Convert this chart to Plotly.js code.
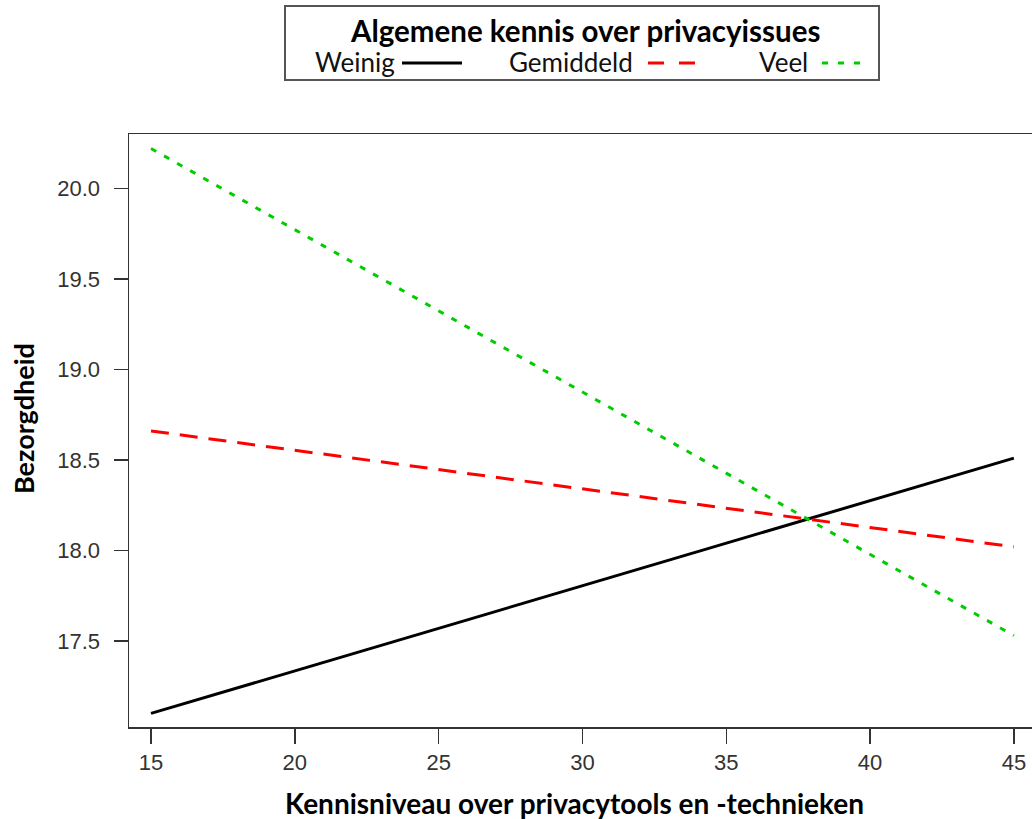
<!DOCTYPE html>
<html>
<head>
<meta charset="utf-8">
<script src="https://cdn.plot.ly/plotly-3.0.1.min.js"></script>
<style>html,body{margin:0;padding:0;background:#fff;}#chart{width:1032px;height:819px;}</style>
</head>
<body>
<div id="chart"></div>
<script>
// Data
const kennisniveau = [15, 45];
const weinig = [17.10, 18.51];
const gemiddeld = [18.66, 18.02];
const veel = [20.22, 17.53];
const seriesNames = ["Weinig", "Gemiddeld", "Veel"];
const legendTitle = "Algemene kennis over privacyissues";
const xTitle = "Kennisniveau over privacytools en -technieken";
const yTitle = "Bezorgdheid";
const xTicks = [15, 20, 25, 30, 35, 40, 45];
const yTicks = [17.5, 18.0, 18.5, 19.0, 19.5, 20.0];
const yTickLabels = ["17.5", "18.0", "18.5", "19.0", "19.5", "20.0"];

const W = 1032, H = 819;
const M = {l: 129, r: 0, t: 134, b: 92};
const PW = W - M.l - M.r, PH = H - M.t - M.b;
const px = v => (v - M.l) / PW;
const py = v => (H - M.b - v) / PH;

const titleFont = "Lato, 'Open Sans', sans-serif";
const tickFont = "'Liberation Sans', Arial, sans-serif";

const traces = [
  {x: kennisniveau, y: weinig, name: seriesNames[0], mode: "lines",
   line: {color: "#000000", width: 3}},
  {x: kennisniveau, y: gemiddeld, name: seriesNames[1], mode: "lines",
   line: {color: "#FF0000", width: 3, dash: "18px,11px"}},
  {x: kennisniveau, y: veel, name: seriesNames[2], mode: "lines",
   line: {color: "#00CC00", width: 3, dash: "6px,9px"}}
];

const shapes = [
  {type: "rect", xref: "paper", yref: "paper", x0: px(285), x1: px(879), y0: py(80), y1: py(6),
   line: {color: "#555", width: 2}, fillcolor: "rgba(0,0,0,0)"},
  {type: "line", xref: "paper", yref: "paper", x0: px(402), x1: px(462), y0: py(63), y1: py(63),
   line: {color: "#000", width: 3}},
  {type: "line", xref: "paper", yref: "paper", x0: px(648), x1: px(695), y0: py(63), y1: py(63),
   line: {color: "#FF0000", width: 3, dash: "16px,15px"}},
  {type: "line", xref: "paper", yref: "paper", x0: px(822), x1: px(860), y0: py(63), y1: py(63),
   line: {color: "#00CC00", width: 3, dash: "6px,10px"}}
];

const annFont = {family: titleFont, size: 26, color: "#111"};
const annotations = [
  {xref: "paper", yref: "paper", x: px(585), y: py(31), text: "<b>" + legendTitle + "</b>",
   showarrow: false, xanchor: "center", yanchor: "middle", font: {family: titleFont, size: 29.5, color: "#000"}},
  {xref: "paper", yref: "paper", x: px(397), y: py(62), text: seriesNames[0],
   showarrow: false, xanchor: "right", yanchor: "middle", font: annFont},
  {xref: "paper", yref: "paper", x: px(635), y: py(62), text: seriesNames[1],
   showarrow: false, xanchor: "right", yanchor: "middle", font: annFont},
  {xref: "paper", yref: "paper", x: px(810), y: py(62), text: seriesNames[2],
   showarrow: false, xanchor: "right", yanchor: "middle", font: annFont},
  {xref: "paper", yref: "paper", x: px(574), y: py(803), text: "<b>" + xTitle + "</b>",
   showarrow: false, xanchor: "center", yanchor: "middle", font: {family: titleFont, size: 28, color: "#000"}},
  {xref: "paper", yref: "paper", x: px(23), y: py(419), text: "<b>" + yTitle + "</b>", textangle: -90,
   showarrow: false, xanchor: "center", yanchor: "middle", font: {family: titleFont, size: 27, color: "#000"}}
];

const layout = {
  width: W, height: H,
  margin: M,
  paper_bgcolor: "#fff", plot_bgcolor: "#fff",
  showlegend: false,
  xaxis: {
    range: [14.235, 45.63],
    tickvals: xTicks, ticktext: xTicks.map(String),
    ticks: "outside", ticklen: 15, tickwidth: 1.5, tickcolor: "#333",
    ticklabelstandoff: 0,
    showline: true, linecolor: "#333", linewidth: 1.5, mirror: true,
    showgrid: false, zeroline: false,
    tickfont: {family: tickFont, size: 22, color: "#333"}
  },
  yaxis: {
    range: [17.025, 20.30],
    tickvals: yTicks, ticktext: yTickLabels,
    ticks: "outside", ticklen: 14, tickwidth: 1.5, tickcolor: "#333",
    ticklabelstandoff: 9,
    showline: true, linecolor: "#333", linewidth: 1.5, mirror: false,
    showgrid: false, zeroline: false,
    tickfont: {family: tickFont, size: 22, color: "#333"}
  },
  shapes: shapes,
  annotations: annotations
};

Plotly.newPlot("chart", traces, layout, {displayModeBar: false, staticPlot: true});
</script>
</body>
</html>
